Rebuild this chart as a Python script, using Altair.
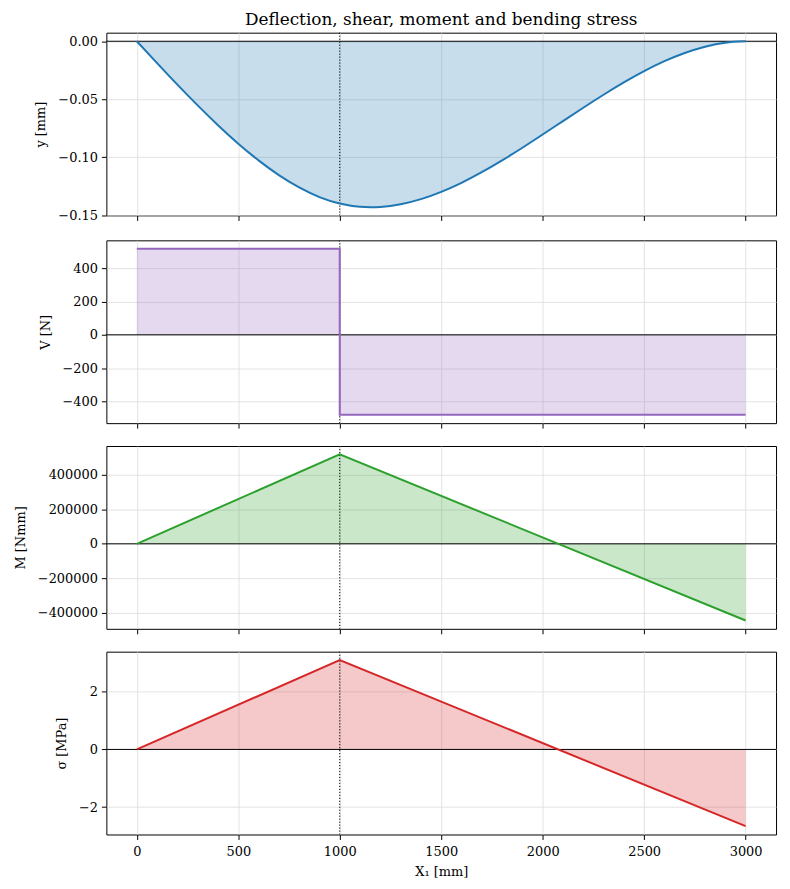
import altair as alt
import pandas as pd

# ---- data ----
x_defl = [0, 100, 200, 300, 400, 500, 600, 700, 800, 900, 1000,
          1100, 1200, 1300, 1400, 1500, 1600, 1700, 1800, 1900, 2000,
          2100, 2200, 2300, 2400, 2500, 2600, 2700, 2800, 2900, 3000]
y_defl = [0.0, -0.0188, -0.0374, -0.0553, -0.0724, -0.0883, -0.1027, -0.1154, -0.1260, -0.1343, -0.1399,
          -0.1427, -0.1428, -0.1405, -0.1361, -0.1298, -0.1220, -0.1129, -0.1027, -0.0918, -0.0804,
          -0.0688, -0.0573, -0.0461, -0.0355, -0.0258, -0.0172, -0.0101, -0.0047, -0.0012, 0.0]

x_shear = [0, 1000, 1000, 3000]
v_shear = [518.5, 518.5, -481.5, -481.5]

x_mom = [0, 1000, 3000]
m_mom = [0, 518500, -444400]

x_str = [0, 1000, 3000]
s_str = [0.0, 3.10, -2.66]

x_ticks = [0, 500, 1000, 1500, 2000, 2500, 3000]
load_x = 1000

FONT = "DejaVu Serif"
W, H = 674, 184
XDOM = [-150, 3150]


def panel(xs, ys, color, ytitle, ydom, yvals, yfmt, bottom=False, title=None, interp="linear"):
    df = pd.DataFrame({"x": xs, "y": ys, "z": [0.0] * len(xs), "i": list(range(len(xs)))})
    xaxis = alt.Axis(values=x_ticks, labels=bottom, ticks=True, tickSize=5,
                     title="X₁ [mm]" if bottom else None, format="d",
                     grid=True, domain=False, labelPadding=6 if bottom else 0,
                     titlePadding=7)
    xenc = alt.X("x:Q", scale=alt.Scale(domain=XDOM, nice=False, zero=False), axis=xaxis)
    yenc = alt.Y("y:Q", scale=alt.Scale(domain=ydom, nice=False, zero=False),
                 axis=alt.Axis(values=yvals, format=yfmt, title=ytitle, tickSize=5,
                               grid=True, domain=False, labelPadding=4, titlePadding=10))
    base = alt.Chart(df)
    area = base.mark_area(color=color, fillOpacity=0.25, interpolate=interp).encode(
        x=xenc, y=yenc, y2="z:Q")
    line = base.mark_line(color=color, strokeWidth=2, interpolate=interp).encode(
        x="x:Q", y="y:Q", order="i:Q")
    one = alt.Chart(pd.DataFrame({"k": [0]}))
    zero = one.mark_rule(color="black", strokeWidth=1).encode(y=alt.datum(0))
    vline = one.mark_rule(color="black", strokeWidth=1, strokeDash=[1.2, 1.8]).encode(
        x=alt.datum(load_x))
    props = dict(width=W, height=H)
    if title:
        props["title"] = alt.Title(title, fontSize=17, font=FONT, fontWeight="normal",
                                   anchor="middle", offset=3, color="black")
    return alt.layer(area, zero, vline, line).properties(**props)


p1 = panel(x_defl, y_defl, "#1f77b4", "y [mm]", [-0.1502, 0.0074],
           [0.0, -0.05, -0.10, -0.15], ".2f",
           title="Deflection, shear, moment and bending stress", interp="natural")
p2 = panel(x_shear, v_shear, "#9467bd", "V [N]", [-531.5, 568.5],
           [-400, -200, 0, 200, 400], "d")
p3 = panel(x_mom, m_mom, "#2ca02c", "M [Nmm]", [-492600, 566700],
           [-400000, -200000, 0, 200000, 400000], "d")
p4 = panel(x_str, s_str, "#d62728", "σ [MPa]", [-2.95, 3.39],
           [-2, 0, 2], "d", bottom=True)

chart = alt.vconcat(p1, p2, p3, p4, spacing=16).properties(
    padding={"left": 5, "top": 0, "right": 5, "bottom": 5}
).configure(
    font=FONT
).configure_view(
    stroke="black", strokeWidth=1
).configure_axis(
    labelFont=FONT, titleFont=FONT, labelFontSize=13, titleFontSize=13,
    titleFontWeight="normal", labelColor="black", titleColor="black",
    tickColor="black", gridColor="#dcdcdc", gridWidth=0.8
)

chart.save("out.html", embed_options={"renderer": "svg", "actions": False})
